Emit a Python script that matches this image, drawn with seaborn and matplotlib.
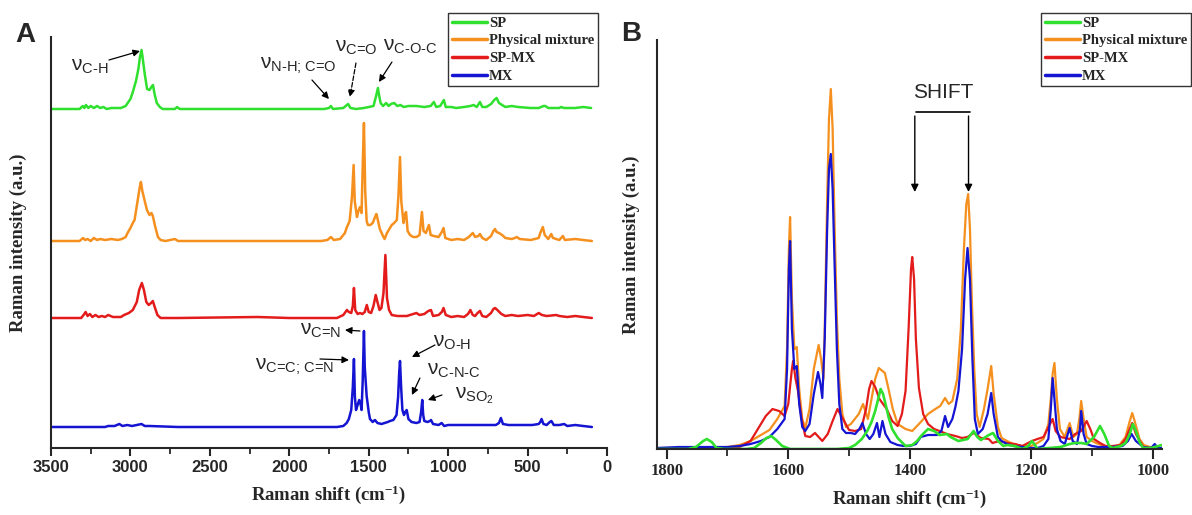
import numpy as np
import pandas as pd
import matplotlib
matplotlib.use("Agg")
import matplotlib.pyplot as plt
import seaborn as sns

# ---------------- data: panel A (full spectra, intensity above each baseline) -------------
sp_a_wn = [3500, 3320, 3300, 3290, 3280, 3265, 3250, 3230, 3210, 3190, 3170, 3150, 3120, 3060, 3030,
           3000, 2985, 2965, 2950, 2940, 2930, 2922, 2910, 2895, 2880, 2868, 2858, 2848, 2834, 2815,
           2797, 2720, 2706, 2690, 2300, 2000, 1780, 1750, 1738, 1725, 1660, 1630, 1615, 1580, 1530,
           1500, 1470, 1455, 1442, 1435, 1425, 1410, 1390, 1375, 1360, 1340, 1320, 1300, 1280, 1250,
           1200, 1150, 1110, 1090, 1075, 1050, 1027, 1015, 980, 950, 900, 860, 840, 820, 800, 785,
           760, 730, 710, 695, 680, 660, 640, 600, 560, 480, 430, 400, 388, 370, 300, 290, 270, 200,
           150, 100]
sp_a_int = [0, 0, 3, 1, 4, 1, 3, 1, 3, 1, 2, 0, 1, 1, 3,
            10, 17, 28, 40, 52, 59, 50, 35, 20, 19, 22, 24, 15, 6, 2,
            0, 0, 2, 0, 0, 0, 0, 1, 3, 0, 1, 5, 1, 0, 1,
            2, 3, 12, 21, 14, 6, 3, 6, 3, 5, 6, 3, 4, 2, 3,
            3, 2, 3, 7, 2, 3, 9, 2, 2, 1, 2, 3, 4, 2, 7, 2,
            2, 5, 9, 11, 6, 4, 2, 3, 2, 1, 1, 3, 3, 1, 1, 2, 1, 1,
            2, 1]

pm_a_wn = [3500, 3320, 3298, 3285, 3270, 3250, 3230, 3210, 3190, 3160, 3120, 3080, 3053, 3030, 3018,
           3000, 2985, 2974, 2955, 2940, 2934, 2925, 2910, 2896, 2880, 2868, 2859, 2845, 2827, 2810,
           2780, 2720, 2700, 2200, 1800, 1760, 1738, 1720, 1680, 1650, 1637, 1620, 1605, 1595, 1588,
           1574, 1565, 1555, 1545, 1537, 1530, 1522, 1513, 1505, 1490, 1475, 1460, 1452, 1444, 1430,
           1410, 1400, 1385, 1370, 1355, 1340, 1323, 1313, 1303, 1295, 1281, 1273, 1265, 1255, 1240,
           1220, 1200, 1180, 1165, 1155, 1140, 1121, 1110, 1090, 1060, 1040, 1029, 1018, 980, 940,
           900, 870, 845, 830, 810, 800, 785, 760, 730, 715, 705, 695, 680, 660, 640, 600, 580, 568,
           550, 480, 430, 420, 404, 392, 370, 351, 340, 300, 278, 265, 200, 150, 95]
pm_a_int = [0, 0, 3, 1, 2, 0, 3, 1, 2, 1, 2, 1, 2, 4, 8,
            13, 18, 21, 40, 55, 59, 50, 40, 31, 26, 28, 25, 15, 4, 1,
            0, 2, 0, 0, 0, 1, 4, 1, 2, 8, 14, 20, 45, 76, 40,
            24, 30, 34, 28, 80, 118, 50, 20, 16, 16, 18, 24, 27, 22, 12,
            5, 2, 8, 12, 16, 18, 21, 45, 84, 40, 18, 26, 29, 10, 6,
            4, 4, 6, 29, 10, 8, 16, 6, 5, 4, 9, 13, 3, 1, 2,
            1, 4, 8, 4, 5, 7, 3, 1, 5, 10, 12, 9, 8, 6, 3, 2, 3, 4,
            2, 1, 3, 8, 14, 6, 2, 7, 3, 1, 5, 1, 2, 1, 0]

spmx_a_wn = [3500, 3310, 3295, 3282, 3270, 3255, 3240, 3220, 3200, 3180, 3160, 3140, 3110, 3060, 3040,
             3010, 2985, 2960, 2945, 2928, 2915, 2900, 2885, 2870, 2859, 2845, 2830, 2810, 2700, 2200,
             2000, 1700, 1660, 1637, 1625, 1610, 1600, 1593, 1585, 1570, 1555, 1540, 1525, 1512, 1500,
             1485, 1470, 1456, 1445, 1432, 1420, 1407, 1395, 1385, 1372, 1355, 1320, 1260, 1240, 1200,
             1180, 1150, 1125, 1108, 1095, 1060, 1040, 1029, 1015, 980, 940, 900, 875, 860, 845, 830,
             815, 800, 785, 760, 730, 715, 705, 690, 665, 640, 600, 560, 500, 460, 430, 410, 380, 320,
             300, 250, 200, 150, 95]
spmx_a_int = [0, 0, 3, 6, 2, 4, 1, 3, 1, 2, 1, 3, 1, 1, 3,
              5, 8, 16, 28, 35, 28, 16, 13, 15, 17, 10, 3, 0, 0, 1,
              0, 0, 3, 8, 6, 5, 12, 30, 8, 4, 5, 4, 6, 13, 6,
              5, 12, 23, 16, 8, 10, 25, 63, 20, 8, 3, 2, 2, 3, 5,
              3, 4, 7, 8, 2, 3, 6, 10, 3, 1, 2, 1, 4, 8, 3, 2,
              5, 7, 2, 1, 5, 9, 10, 8, 4, 2, 3, 2, 3, 2, 5, 3, 2, 3,
              2, 1, 2, 1, 0]

mx_a_wn = [3500, 3160, 3140, 3100, 3070, 3050, 3020, 2990, 2960, 2930, 2910, 2880, 2700, 2000, 1700,
           1660, 1639, 1625, 1610, 1600, 1593, 1587, 1580, 1570, 1560, 1550, 1545, 1538, 1530, 1525,
           1513, 1500, 1492, 1475, 1461, 1445, 1420, 1400, 1380, 1366, 1345, 1325, 1315, 1308, 1303,
           1296, 1288, 1278, 1270, 1261, 1250, 1230, 1200, 1180, 1170, 1163, 1157, 1150, 1130, 1115,
           1108, 1095, 1060, 1041, 1025, 1000, 950, 900, 870, 800, 750, 700, 680, 668, 655, 620,
           560, 520, 470, 430, 420, 412, 400, 380, 360, 350, 335, 300, 270, 250, 200, 150, 95]
mx_a_int = [0, 0, 1, 1, 3, 1, 2, 1, 2, 3, 1, 1, 0, 0, 0,
            1, 4, 8, 17, 40, 68, 30, 17, 22, 27, 22, 17, 45, 96, 60,
            31, 15, 8, 5, 7, 4, 3, 4, 5, 6, 7, 12, 30, 55, 66,
            40, 17, 12, 15, 17, 8, 5, 4, 5, 15, 27, 12, 6, 5, 6,
            7, 3, 2, 4, 1, 2, 2, 2, 2, 2, 2, 2, 4, 9, 3, 2,
            2, 2, 2, 3, 5, 8, 3, 2, 5, 6, 2, 2, 3, 1, 2, 1, 0]

# ---------------- data: panel B (1800-1000 cm-1 region) ----------------
sp_b_wn = [1816, 1765, 1752, 1740, 1734, 1726, 1718, 1705, 1670, 1656, 1645, 1636, 1628, 1620, 1610,
           1597, 1520, 1500, 1490, 1479, 1470, 1463, 1457, 1452, 1448, 1444, 1438, 1435, 1429, 1420,
           1407, 1396, 1388, 1380, 1370, 1360, 1351, 1339, 1333, 1320, 1305, 1295, 1289, 1283, 1270,
           1263, 1255, 1246, 1240, 1227, 1215, 1205, 1199, 1193, 1190, 1170, 1152, 1137, 1128, 1118,
           1109, 1097, 1087, 1080, 1072, 1066, 1053, 1045, 1038, 1033, 1028, 1022, 1016, 1003, 985]
sp_b_int = [0, 0, 2, 8, 10, 7, 1, 0, 0, 1, 6, 11, 13, 9, 3,
            0, 0, 1, 4, 10, 18, 27, 38, 50, 60, 55, 40, 32, 20, 11,
            3, 4, 8, 14, 20, 18, 14, 15, 12, 8, 10, 18, 12, 9, 14,
            16, 8, 3, 4, 3, 0, 3, 8, 3, 0, 1, 2, 5, 6, 6,
            5, 12, 23, 15, 3, 1, 3, 6, 15, 25, 18, 7, 1, 1, 4]

pm_b_wn = [1816, 1760, 1700, 1680, 1662, 1645, 1631, 1618, 1606, 1602, 1599, 1597, 1594, 1590, 1586,
           1582, 1577, 1572, 1565, 1558, 1550, 1546, 1542, 1540, 1536, 1533, 1530, 1527, 1524, 1520,
           1516, 1511, 1505, 1497, 1484, 1477, 1469, 1463, 1457, 1451, 1445, 1441, 1435, 1428, 1420,
           1407, 1396, 1385, 1370, 1358, 1350, 1342, 1336, 1330, 1322, 1316, 1311, 1307, 1304, 1301,
           1298, 1294, 1290, 1285, 1278, 1272, 1266, 1262, 1255, 1249, 1240, 1230, 1215, 1200, 1190,
           1180, 1172, 1168, 1165, 1162, 1158, 1153, 1145, 1137, 1131, 1125, 1121, 1118, 1114, 1109,
           1100, 1090, 1078, 1066, 1055, 1045, 1038, 1034, 1030, 1022, 1015, 1005, 985]
pm_b_int = [1, 1, 2, 4, 8, 14, 19, 30, 43, 100, 200, 232, 150, 100, 102,
            60, 30, 21, 40, 80, 104, 90, 70, 120, 250, 330, 360, 320, 230, 130,
            70, 35, 22, 25, 35, 45, 30, 50, 70, 81, 78, 76, 60, 40, 25,
            20, 18, 25, 35, 40, 43, 51, 45, 48, 70, 120, 200, 245, 255, 220,
            150, 80, 35, 22, 40, 60, 83, 55, 22, 11, 8, 5, 3, 3, 6,
            10, 25, 50, 75, 86, 50, 20, 12, 26, 12, 15, 30, 48, 30, 12,
            8, 5, 3, 2, 4, 12, 28, 36, 28, 10, 4, 2, 1]

spmx_b_wn = [1816, 1760, 1700, 1680, 1662, 1650, 1637, 1626, 1615, 1606, 1600, 1594, 1592, 1588, 1584,
             1578, 1572, 1564, 1556, 1550, 1544, 1535, 1527, 1519, 1510, 1500, 1490, 1480, 1472, 1467,
             1463, 1457, 1450, 1438, 1429, 1420, 1413, 1407, 1402, 1398, 1396, 1393, 1390, 1385, 1378,
             1370, 1360, 1351, 1339, 1325, 1314, 1305, 1295, 1283, 1270, 1264, 1252, 1240, 1227, 1215,
             1199, 1190, 1180, 1171, 1165, 1160, 1152, 1137, 1128, 1118, 1109, 1103, 1097, 1087, 1078,
             1066, 1053, 1045, 1034, 1028, 1016, 1003, 985]
spmx_b_int = [0, 0, 1, 2, 8, 20, 33, 40, 38, 33, 45, 80, 88, 70, 58,
              30, 13, 12, 16, 12, 8, 15, 28, 40, 30, 19, 18, 20, 40, 60,
              68, 62, 50, 40, 28, 23, 35, 58, 120, 180, 192, 170, 110, 61, 35,
              25, 20, 18, 15, 13, 11, 12, 16, 11, 10, 6, 8, 6, 5, 3,
              8, 10, 12, 23, 30, 18, 12, 10, 15, 18, 28, 20, 10, 6, 3,
              3, 4, 10, 26, 15, 2, 1, 0]

mx_b_wn = [1816, 1780, 1740, 1700, 1680, 1662, 1645, 1631, 1618, 1606, 1602, 1599, 1597, 1594, 1590,
           1586, 1582, 1577, 1572, 1565, 1558, 1551, 1547, 1544, 1540, 1536, 1533, 1530, 1527, 1524,
           1520, 1516, 1511, 1505, 1497, 1490, 1483, 1478, 1472, 1466, 1460, 1454, 1450, 1445, 1440,
           1432, 1420, 1410, 1400, 1390, 1382, 1370, 1355, 1348, 1342, 1337, 1330, 1325, 1320, 1314,
           1309, 1305, 1301, 1297, 1293, 1288, 1280, 1272, 1266, 1262, 1255, 1249, 1240, 1230, 1215,
           1200, 1190, 1180, 1172, 1168, 1165, 1162, 1158, 1152, 1145, 1137, 1132, 1125, 1120, 1118,
           1114, 1109, 1100, 1090, 1080, 1066, 1050, 1041, 1035, 1028, 1016, 1003, 997, 992, 985]
mx_b_int = [1, 2, 2, 2, 3, 5, 8, 12, 20, 30, 80, 180, 208, 120, 80,
            83, 45, 22, 18, 25, 55, 77, 65, 51, 110, 220, 280, 295, 260, 190,
            100, 45, 20, 16, 16, 15, 20, 26, 15, 10, 15, 26, 12, 28, 15,
            7, 4, 3, 3, 5, 12, 14, 14, 18, 33, 22, 30, 42, 58, 100,
            170, 201, 170, 90, 30, 15, 20, 35, 56, 35, 12, 8, 5, 3, 2,
            1, 1, 3, 10, 40, 71, 50, 20, 8, 5, 21, 8, 5, 20, 38,
            15, 5, 3, 2, 2, 2, 3, 8, 15, 8, 2, 1, 5, 1, 1]

labels = ["SP", "Physical mixture", "SP-MX", "MX"]
colors = ["#2fe02f", "#f5901e", "#e31b1b", "#1414d2"]
offsets_a = [339, 207, 130, 21]

# ---------------- style ----------------
sns.set_style("ticks")
plt.rcParams["font.family"] = ["Liberation Sans", "DejaVu Sans"]
plt.rcParams["mathtext.fontset"] = "custom"
plt.rcParams["mathtext.rm"] = "Liberation Sans"
plt.rcParams["mathtext.it"] = "Liberation Sans:italic"
plt.rcParams["mathtext.bf"] = "Liberation Sans:bold"

W, H = 1192, 515
fig = plt.figure(figsize=(W / 100, H / 100), dpi=100)

def rect(l, r, t, b):
    return [l / W, 1 - b / H, (r - l) / W, (b - t) / H]

axA = fig.add_axes(rect(51, 607, 37, 448))
axB = fig.add_axes(rect(657, 1162, 40, 449))

serif_bold = dict(family=["Liberation Serif", "DejaVu Serif"], weight="bold")

# ---------------- panel A ----------------
a_sets = [(sp_a_wn, sp_a_int), (pm_a_wn, pm_a_int), (spmx_a_wn, spmx_a_int), (mx_a_wn, mx_a_int)]
handlesA = []
for (wn, it), lab, col, off in zip(a_sets, labels, colors, offsets_a):
    df = pd.DataFrame({"wn": wn, "y": np.array(it, dtype=float) + off})
    sns.lineplot(data=df, x="wn", y="y", ax=axA, color=col, lw=1.8, estimator=None, sort=False, legend=False)
    handlesA.append(plt.Line2D([], [], color=col, lw=2.5))

axA.set_xlim(3500, 0)
axA.set_ylim(0, 411)
axA.set_yticks([])
axA.set_xticks(np.arange(3500, -1, -500))
axA.set_xticks(np.arange(3250, 0, -500), minor=True)
for lab in axA.get_xticklabels():
    lab.set_fontweight("bold")
    lab.set_fontfamily(["Liberation Sans", "DejaVu Sans"])
    lab.set_fontsize(12)
axA.tick_params(axis="x", which="major", length=6, width=1.5, pad=3, direction="out")
axA.tick_params(axis="x", which="minor", length=4, width=1.3, direction="out")
sns.despine(ax=axA, top=True, right=True)
for s in ["left", "bottom"]:
    axA.spines[s].set_linewidth(1.5)
axA.set_xlabel("Raman shift (cm$\\mathregular{^{-1}}$)", fontsize=13.5, labelpad=6, **serif_bold)
axA.set_ylabel("Raman intensity (a.u.)", fontsize=13.5, labelpad=17, **serif_bold)

legA = axA.legend(handlesA, labels, loc="upper right", bbox_to_anchor=(598 / W, 1 - 13 / H),
                  bbox_transform=fig.transFigure, frameon=True, fancybox=False, edgecolor="black",
                  borderpad=0.25, labelspacing=0.3, handlelength=2.4, handletextpad=0.15,
                  borderaxespad=0, prop=dict(size=10.5, **serif_bold))
legA.get_frame().set_linewidth(1.0)

def wnA(px):
    return 3500 - (px - 51) * 6.294

def yA(py):
    return 448 - py

ann_fs = 15
txtA = [
    ("ν$_{\\text{C-H}}$", 71, 67, (109, 60), (140, 51), "-"),
    ("ν$_{\\text{N-H; C=O}}$", 260, 66, (312, 80), (329, 99), "-"),
    ("ν$_{\\text{C=O}}$", 335, 48, (356, 63), (350, 97), "--"),
    ("ν$_{\\text{C-O-C}}$", 383, 47, (392, 62), (379, 82), "-"),
    ("ν$_{\\text{C=N}}$", 300, 330, (360, 331), (345, 330), "-"),
    ("ν$_{\\text{C=C; C=N}}$", 255, 367, (320, 359), (349, 360), "-"),
    ("ν$_{\\text{O-H}}$", 433, 342, (435, 345), (412, 357), "-"),
    ("ν$_{\\text{C-N-C}}$", 427, 370, (420, 378), (412, 395), "-"),
    ("ν$_{\\text{SO}_{2}}$", 455, 396, (442, 395), (428, 400), "-"),
]
for t, tx, ty, p0, p1, ls in txtA:
    axA.text(wnA(tx), yA(ty), t, fontsize=ann_fs, ha="left", va="center")
    axA.annotate("", xy=(wnA(p1[0]), yA(p1[1])), xytext=(wnA(p0[0]), yA(p0[1])),
                 arrowprops=dict(arrowstyle="-|>", color="black", lw=0.9, linestyle=ls,
                                 mutation_scale=10, shrinkA=0, shrinkB=0))

fig.text(15 / W, 1 - 22 / H, "A", fontsize=20, fontweight="bold", ha="left", va="top",
         family=["Liberation Sans", "DejaVu Sans"])
fig.text(621 / W, 1 - 21 / H, "B", fontsize=20, fontweight="bold", ha="left", va="top",
         family=["Liberation Sans", "DejaVu Sans"])

# ---------------- panel B ----------------
b_sets = {"SP": (sp_b_wn, sp_b_int), "Physical mixture": (pm_b_wn, pm_b_int),
          "SP-MX": (spmx_b_wn, spmx_b_int), "MX": (mx_b_wn, mx_b_int)}
col_map = dict(zip(labels, colors))
for lab in ["Physical mixture", "SP-MX", "MX", "SP"]:
    wn, it = b_sets[lab]
    df = pd.DataFrame({"wn": wn, "y": it})
    sns.lineplot(data=df, x="wn", y="y", ax=axB, color=col_map[lab], lw=1.6 if lab != "SP" else 1.9,
                 estimator=None, sort=False, legend=False)

axB.set_xlim(1816, 985)
axB.set_ylim(0, 409)
axB.set_yticks([])
axB.set_xticks(np.arange(1800, 999, -200))
axB.set_xticks(np.arange(1700, 999, -200), minor=True)
for lab in axB.get_xticklabels():
    lab.set_fontweight("bold")
    lab.set_fontfamily(["Liberation Serif", "DejaVu Serif"])
    lab.set_fontsize(12)
axB.tick_params(axis="x", which="major", length=7, width=1.5, pad=3, direction="out")
axB.tick_params(axis="x", which="minor", length=5, width=1.3, direction="out")
sns.despine(ax=axB, top=True, right=True)
for s in ["left", "bottom"]:
    axB.spines[s].set_linewidth(1.5)
axB.set_xlabel("Raman shift (cm$\\mathregular{^{-1}}$)", fontsize=13.5, labelpad=6, **serif_bold)
axB.set_ylabel("Raman intensity (a.u.)", fontsize=13.5, labelpad=12, **serif_bold)

handlesB = [plt.Line2D([], [], color=c, lw=2.5) for c in colors]
legB = axB.legend(handlesB, labels, loc="upper right", bbox_to_anchor=(1191 / W, 1 - 13 / H),
                  bbox_transform=fig.transFigure, frameon=True, fancybox=False, edgecolor="black",
                  borderpad=0.25, labelspacing=0.3, handlelength=2.4, handletextpad=0.15,
                  borderaxespad=0, prop=dict(size=10.5, **serif_bold))
legB.get_frame().set_linewidth(1.0)

# SHIFT bracket
def wnB(px):
    return 1800 - (px - 667) * 1.6461

def yB(py):
    return 449 - py

axB.text(wnB(943), yB(93), "SHIFT", fontsize=15, ha="center", va="center")
axB.plot([wnB(916), wnB(970.6)], [yB(111.7), yB(111.7)], color="black", lw=1.2)
for px in (915, 968.7):
    axB.annotate("", xy=(wnB(px), yB(192)), xytext=(wnB(px), yB(116)),
                 arrowprops=dict(arrowstyle="-|>", color="black", lw=1.0, mutation_scale=11,
                                 shrinkA=0, shrinkB=0))

fig.savefig("out.png", dpi=100)
